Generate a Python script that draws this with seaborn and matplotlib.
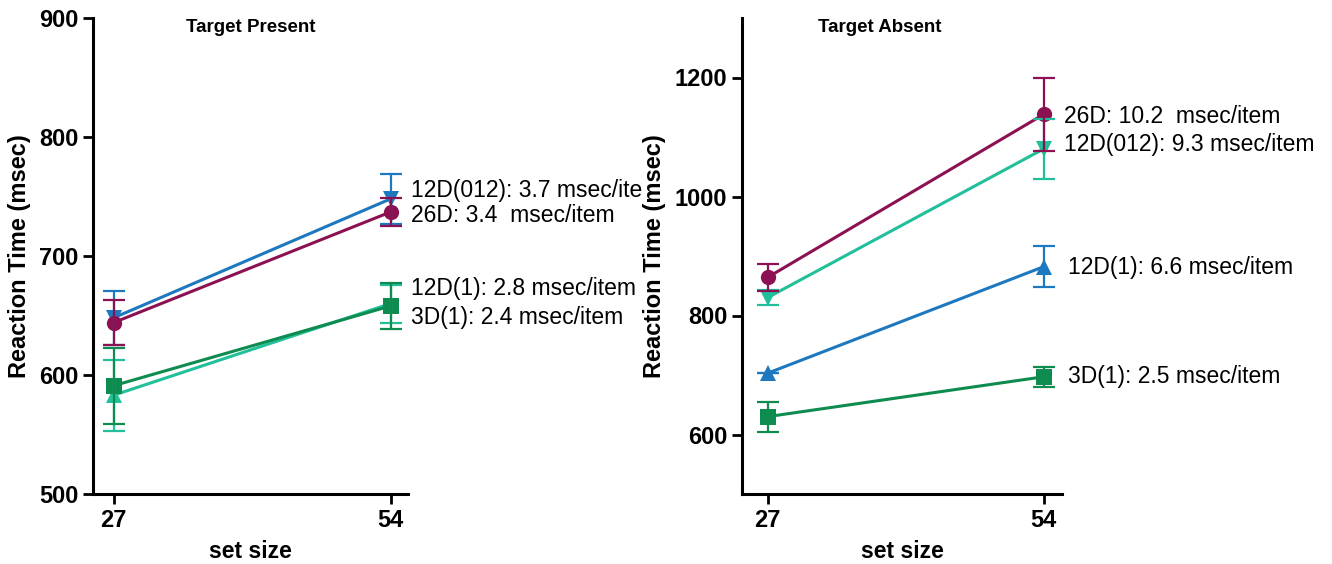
import matplotlib
matplotlib.use("Agg")
import matplotlib.pyplot as plt
import seaborn as sns
import pandas as pd

# ---- data ----
set_sizes = [27, 54]
conditions = ["26D", "12D(012)", "12D(1)", "3D(1)"]

present_means = {"26D": [644, 737], "12D(012)": [648, 748], "12D(1)": [583, 660], "3D(1)": [591, 658]}
present_sems = {"26D": [19, 12], "12D(012)": [23, 21], "12D(1)": [30, 16], "3D(1)": [32, 19]}
present_labels = {"12D(012)": "12D(012): 3.7 msec/ite", "26D": "26D: 3.4  msec/item",
                  "12D(1)": "12D(1): 2.8 msec/item", "3D(1)": "3D(1): 2.4 msec/item"}
present_label_y = {"12D(012)": 755, "26D": 734, "12D(1)": 673, "3D(1)": 648}

absent_means = {"26D": [864, 1138], "12D(012)": [830, 1080], "12D(1)": [703, 882], "3D(1)": [630, 697]}
absent_sems = {"26D": [22, 62], "12D(012)": [13, 50], "12D(1)": [0, 34], "3D(1)": [25, 17]}
absent_labels = {"26D": "26D: 10.2  msec/item", "12D(012)": "12D(012): 9.3 msec/item",
                 "12D(1)": "12D(1): 6.6 msec/item", "3D(1)": "3D(1): 2.5 msec/item"}
absent_label_y = {"26D": 1135, "12D(012)": 1088, "12D(1)": 880, "3D(1)": 697}

# ---- styles ----
PURPLE = "#8C1152"
BLUE = "#1E78BF"
TEAL = "#22BF9B"
GREEN = "#0E8C50"
markers = {"26D": "o", "12D(012)": "v", "12D(1)": "^", "3D(1)": "s"}
present_colors = {"26D": PURPLE, "12D(012)": BLUE, "12D(1)": TEAL, "3D(1)": GREEN}
absent_colors = {"26D": PURPLE, "12D(012)": TEAL, "12D(1)": BLUE, "3D(1)": GREEN}
draw_order = ["12D(1)", "3D(1)", "12D(012)", "26D"]

sns.set_style("ticks")
plt.rcParams["font.family"] = ["Liberation Sans", "DejaVu Sans"]
plt.rcParams["text.color"] = "black"
plt.rcParams["axes.labelcolor"] = "black"
plt.rcParams["xtick.color"] = "black"
plt.rcParams["ytick.color"] = "black"

fig = plt.figure(figsize=(13.32, 5.64), dpi=100)
W, H = 1332, 564
ax1 = fig.add_axes([93 / W, (H - 494) / H, 315 / W, 476 / H])
ax2 = fig.add_axes([742 / W, (H - 494) / H, 320 / W, 476 / H])


def panel(ax, means, sems, colors, labels, label_y, title, title_x, ylim, yticks, text_x, xlim):
    rows = []
    for c in conditions:
        for s, m in zip(set_sizes, means[c]):
            rows.append({"set": s, "rt": m, "cond": c})
    df = pd.DataFrame(rows)
    order = list(draw_order)
    sns.lineplot(data=df, x="set", y="rt", hue="cond", style="cond", hue_order=order,
                 style_order=order, palette=colors, markers=markers, dashes=False,
                 markersize=11, linewidth=2.2, markeredgewidth=0, legend=False, ax=ax,
                 errorbar=None)
    for c in order:
        ax.errorbar(set_sizes, means[c], yerr=sems[c], fmt="none", ecolor=colors[c],
                    elinewidth=1.6, capsize=8, capthick=1.6, zorder=3)
    ax.set_xlim(*xlim)
    ax.set_ylim(*ylim)
    ax.set_xticks(set_sizes)
    ax.set_yticks(yticks)
    ax.tick_params(axis="both", which="major", direction="out", length=7, width=2,
                   labelsize=17, color="black", labelcolor="black")
    for lab in ax.get_xticklabels() + ax.get_yticklabels():
        lab.set_fontweight("bold")
    for sp in ["top", "right"]:
        ax.spines[sp].set_visible(False)
    for sp in ["left", "bottom"]:
        ax.spines[sp].set_linewidth(2.2)
        ax.spines[sp].set_color("black")
    ax.set_xlabel("set size", fontsize=16.5, fontweight="bold", labelpad=6)
    ax.set_ylabel("Reaction Time (msec)", fontsize=17, fontweight="bold", labelpad=6)
    ax.text(title_x, 0.98, title, transform=ax.transAxes, ha="center", va="center",
            fontsize=13.5, fontweight="bold")
    for c in conditions:
        ax.text(text_x[c], label_y[c], labels[c], ha="left", va="center", fontsize=16.5,
                clip_on=False)


panel(ax1, present_means, present_sems, present_colors, present_labels, present_label_y,
      "Target Present", 0.5, (500, 900), [500, 600, 700, 800, 900],
      {c: 56.0 for c in conditions}, (25, 55.7))
panel(ax2, absent_means, absent_sems, absent_colors, absent_labels, absent_label_y,
      "Target Absent", 0.43, (500, 1300), [600, 800, 1000, 1200],
      {"26D": 56.0, "12D(012)": 56.0, "12D(1)": 56.4, "3D(1)": 56.4}, (24.5, 55.8))

fig.savefig("out.png", dpi=100)
